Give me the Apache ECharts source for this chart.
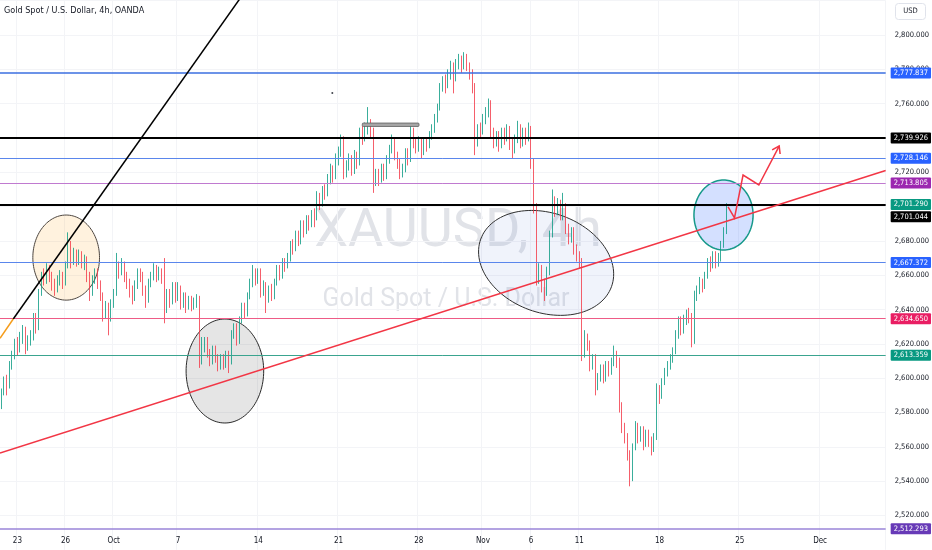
<!DOCTYPE html>
<html><head><meta charset="utf-8">
<script src="https://cdn.jsdelivr.net/npm/echarts@6/dist/echarts.min.js"></script>
<style>html,body{margin:0;padding:0;background:#fff}#c{width:932px;height:550px}</style>
</head><body><div id="c"></div>
<script>
// ---- candle data (4h XAUUSD) ----
const opens = [2584,2592,2598,2596,2608,2614, 2620,2617,2624,2628,2620,2622, 2625,2636,2630,2650,2660,2658, 2664,2659,2655,2652,2657,2660,
2656,2666,2678,2670,2673,2669, 2672,2668,2670,2660,2650,2658, 2662,2655,2648,2638,2642,2636, 2644,2650,2666,2662,2667,2660,
2656,2652,2647,2655,2662,2660, 2652,2646,2656,2660,2664,2660, 2662,2658,2640,2650,2645,2654, 2648,2652,2644,2648,2642,2646,
2642,2645,2646,2610,2618,2622, 2615,2610,2617,2612,2606,2612, 2608,2614,2610,2626,2630,2622, 2634,2642,2638,2648,2656,2662,
2658,2662,2650,2654,2646,2652, 2648,2656,2664,2660,2668,2666, 2670,2678,2676,2684,2680,2690, 2686,2692,2690,2696,2694,2706,
2702,2710,2708,2716,2722,2718, 2728,2732,2740,2720,2724,2728, 2722,2730,2726,2744,2740,2746, 2748,2744,2716,2720,2716,2722,
2718,2728,2734,2738,2730,2726, 2720,2722,2732,2728,2744,2738, 2735,2738,2733,2738,2736,2742, 2746,2752,2758,2770,2774,2772,
2778,2782,2776,2784,2786,2782, 2788,2782,2778,2770,2738,2746, 2744,2752,2756,2760,2744,2738, 2742,2736,2744,2740,2745,2737,
2734,2740,2746,2738,2744,2740, 2745,2726,2700,2660,2664,2655, 2650,2662,2684,2704,2698,2702, 2696,2700,2688,2682,2686,2676,
2672,2668,2614,2624,2620,2608, 2612,2596,2600,2606,2600,2608, 2604,2610,2614,2610,2584,2572, 2566,2556,2542,2560,2572,2566,
2570,2562,2568,2564,2560,2566, 2594,2590,2598,2604,2608,2612, 2616,2626,2634,2628,2634,2638, 2636,2622,2648,2652,2656,2654,
2660,2668,2666,2672,2668,2670, 2678,2686];
const closes = [2592,2598,2596,2608,2614,2620, 2617,2624,2628,2620,2622,2625, 2636,2630,2650,2660,2658,2664, 2659,2655,2652,2657,2660,2656,
2666,2678,2670,2673,2669,2672, 2668,2670,2660,2650,2658,2662, 2655,2648,2638,2642,2636,2644, 2650,2666,2662,2667,2660,2656,
2652,2647,2655,2662,2660,2652, 2646,2656,2660,2664,2660,2662, 2658,2640,2650,2645,2654,2648, 2652,2644,2648,2642,2646,2642,
2645,2646,2610,2618,2622,2615, 2610,2617,2612,2606,2612,2608, 2614,2610,2626,2630,2622,2634, 2642,2638,2648,2656,2662,2658,
2662,2650,2654,2646,2652,2648, 2656,2664,2660,2668,2666,2670, 2678,2676,2684,2680,2690,2686, 2692,2690,2696,2694,2706,2702,
2710,2708,2716,2722,2718,2728, 2732,2740,2720,2724,2728,2722, 2730,2726,2744,2740,2746,2748, 2744,2716,2720,2716,2722,2718,
2728,2734,2738,2730,2726,2720, 2722,2732,2728,2744,2738,2735, 2738,2733,2738,2736,2742,2746, 2752,2758,2770,2774,2772,2778,
2782,2776,2784,2786,2782,2788, 2782,2778,2770,2738,2746,2744, 2752,2756,2760,2744,2738,2742, 2736,2744,2740,2745,2737,2734,
2740,2746,2738,2744,2740,2745, 2726,2700,2660,2664,2655,2650, 2662,2684,2704,2698,2702,2696, 2700,2688,2682,2686,2676,2672,
2668,2614,2624,2620,2608,2612, 2596,2600,2606,2600,2608,2604, 2610,2614,2610,2584,2572,2566, 2556,2542,2560,2572,2566,2570,
2562,2568,2564,2560,2566,2594, 2590,2598,2604,2608,2612,2616, 2626,2634,2628,2634,2638,2636, 2622,2648,2652,2656,2654,2660,
2668,2666,2672,2668,2670,2678, 2686,2701.29];
const lows = [2582,2590,2590,2594,2605,2611, 2613,2615,2620,2614,2616,2619, 2622,2626,2628,2648,2654,2655, 2656,2651,2648,2650,2654,2652,
2654,2664,2664,2666,2665,2666, 2664,2663,2656,2645,2648,2655, 2652,2645,2633,2635,2625,2633, 2641,2648,2658,2660,2656,2652,
2647,2643,2645,2652,2656,2648, 2641,2644,2653,2657,2656,2657, 2655,2632,2638,2641,2643,2644, 2645,2640,2641,2638,2640,2639,
2640,2641,2606,2608,2615,2612, 2607,2608,2609,2604,2605,2605, 2606,2603,2608,2623,2619,2620, 2632,2635,2636,2646,2653,2654,
2655,2647,2648,2638,2644,2645, 2646,2654,2657,2658,2662,2664, 2668,2672,2674,2677,2678,2682, 2684,2686,2688,2688,2692,2698,
2700,2704,2706,2713,2714,2716, 2724,2729,2716,2717,2721,2718, 2719,2722,2724,2736,2738,2742, 2740,2708,2712,2712,2714,2715,
2716,2725,2731,2727,2722,2716, 2717,2720,2724,2726,2734,2731, 2732,2728,2730,2732,2734,2739, 2743,2749,2756,2767,2766,2769,
2774,2766,2773,2780,2778,2780, 2779,2774,2766,2730,2735,2740, 2742,2748,2752,2740,2734,2735, 2732,2734,2736,2738,2733,2728,
2731,2737,2734,2735,2736,2738, 2722,2696,2654,2655,2650,2645, 2648,2660,2682,2694,2695,2692, 2692,2684,2678,2679,2672,2668,
2664,2610,2612,2616,2604,2605, 2590,2593,2598,2597,2598,2601, 2602,2607,2606,2580,2568,2562, 2552,2537,2540,2558,2562,2563,
2558,2560,2560,2555,2557,2564, 2585,2588,2596,2601,2605,2609, 2614,2623,2625,2626,2631,2632, 2618,2620,2645,2649,2650,2652,
2658,2662,2664,2664,2665,2668, 2676,2684];
const highs = [2594,2601,2602,2610,2616,2623, 2624,2627,2631,2630,2625,2628, 2638,2638,2652,2662,2664,2667, 2666,2662,2658,2660,2663,2662,
2668,2685,2680,2676,2675,2675, 2674,2672,2671,2662,2660,2664, 2664,2657,2650,2645,2644,2646, 2652,2673,2668,2670,2668,2662,
2658,2654,2657,2664,2664,2662, 2654,2658,2662,2667,2666,2665, 2664,2670,2652,2652,2656,2656, 2656,2654,2650,2650,2648,2648,
2647,2649,2648,2624,2624,2624, 2617,2619,2619,2614,2614,2614, 2616,2616,2628,2632,2632,2636, 2644,2644,2650,2658,2666,2664,
2664,2664,2657,2656,2654,2655, 2658,2666,2666,2670,2670,2673, 2680,2681,2686,2686,2692,2692, 2695,2695,2698,2699,2709,2708,
2712,2713,2719,2725,2724,2731, 2735,2742,2741,2727,2731,2730, 2733,2732,2746,2747,2749,2758, 2751,2746,2722,2722,2725,2725,
2730,2736,2742,2740,2732,2728, 2725,2734,2734,2747,2746,2740, 2741,2740,2740,2740,2744,2748, 2754,2760,2772,2776,2777,2780,
2785,2784,2786,2789,2788,2790, 2789,2784,2780,2772,2748,2749, 2754,2758,2763,2762,2746,2744, 2744,2746,2746,2748,2747,2740,
2742,2750,2748,2746,2746,2749, 2747,2728,2702,2667,2666,2658, 2665,2686,2710,2706,2705,2704, 2708,2702,2690,2688,2688,2678,
2674,2670,2628,2626,2622,2614, 2614,2603,2608,2608,2610,2610, 2612,2619,2616,2612,2586,2574, 2568,2558,2562,2575,2574,2572,
2572,2570,2570,2566,2568,2597, 2596,2600,2606,2610,2614,2618, 2628,2636,2636,2637,2640,2641, 2638,2651,2654,2659,2658,2662,
2670,2671,2674,2674,2673,2680, 2688,2702];

// time axis: one slot per 4h bar (6 per trading day), future slots left empty
const SLOTS = 331;
const dateTickIndex = [6, 24, 42, 66, 96, 126, 156, 180, 198, 216, 246, 276, 306];
const dateTickText  = ['23','26','Oct','7','14','21','28','Nov','6','11','18','25','Dec'];

// price axis
const priceMin = 2500, priceMax = 2820, priceStep = 20;

// horizontal levels drawn on the chart
const levelPrices = [2777.837, 2739.926, 2728.146, 2713.805, 2701.044, 2667.372, 2634.650, 2613.359, 2512.293];
const lastPrice = 2701.290;

// drawings (bar index, price)
const trendBlack  = [[4.45, 2634.5], [96.2, 2836.7]];
const trendOrange = [[-0.5, 2623.3], [4.45, 2634.5]];
const trendRed    = [[-0.5, 2556.4], [330.5, 2721.0]];
const projPath    = [[271.6, 2699.9], [274.0, 2693.4], [277.2, 2718.4], [283.1, 2712.6], [290.7, 2735.3]];
const boxZone     = [[134.9, 2748.7], [156.1, 2746.7]];
const noteDot     = [[123.7, 2766.2]];
// ellipses: [centre index, centre price, radius (bars), radius (price), rotation deg]
const ellipses = [
  [24.23, 2670.3, 12.46, 24.8, 0],
  [83.55, 2604.2, 14.5, 30.3, 0],
  [203.6, 2667.2, 26.0, 29.0, 20],
  [269.9, 2695.1, 11.05, 20.4, 0]
];

// ---- styles ----
const FONT = "'Liberation Sans Narrow','DejaVu Sans Condensed',Roboto,sans-serif";
const levelStyle = [
  {line:'#3b6fe0', w:1.5, bg:'#2962ff'},
  {line:'#000000', w:2,   bg:'#000000'},
  {line:'#5a86ec', w:1,   bg:'#2962ff'},
  {line:'#c07ad0', w:1,   bg:'#9c27b0'},
  {line:'#000000', w:2,   bg:'#000000', dy:12},
  {line:'#5a86ec', w:1,   bg:'#2962ff'},
  {line:'#ee5b86', w:1,   bg:'#e91e63'},
  {line:'#3aa48f', w:1,   bg:'#089981'},
  {line:'#9a85d8', w:1.5, bg:'#673ab7'}
];
const ellipseStyle = [
  {fill:'rgba(255,152,0,0.13)',  stroke:'#4d4640', w:1},
  {fill:'rgba(0,0,0,0.10)',      stroke:'#2a2a2a', w:1},
  {fill:'rgba(66,103,210,0.08)', stroke:'#2f2f2f', w:1},
  {fill:'rgba(41,98,255,0.20)',  stroke:'#17998a', w:1.5}
];

const fmt = v => v.toLocaleString('en-US', {minimumFractionDigits:3, maximumFractionDigits:3});
const categories = Array.from({length: SLOTS}, (_, i) => String(i));
const candles = opens.map((o, i) => [o, closes[i], lows[i], highs[i]]);
const tickSet = new Map(dateTickIndex.map((d, k) => [d, dateTickText[k]]));

function priceLabel(bg, txt, dy) {
  return {show:true, position:'end', distance:5, formatter: txt, color:'#fff', backgroundColor:bg,
    padding:[2,3,1,3], fontSize:7.5, lineHeight:8, fontFamily:FONT, borderRadius:1, offset:[0, dy||0]};
}
const markData = levelPrices.map((p, k) => ({
  yAxis: p,
  lineStyle: {color: levelStyle[k].line, width: levelStyle[k].w, type:'solid'},
  label: priceLabel(levelStyle[k].bg, fmt(p), levelStyle[k].dy)
}));
markData.push({yAxis: lastPrice, lineStyle:{color:'rgba(255,255,255,0)', width:1, type:'solid'}, label: priceLabel('#089981', fmt(lastPrice), 0)});

const chart = echarts.init(document.getElementById('c'), null, {renderer:'canvas'});
chart.setOption({
  animation:false,
  backgroundColor:'#ffffff',
  grid:{left:0, right:42, top:0.7, bottom:0.2, containLabel:false},
  xAxis:[{
    type:'category', data:categories, boundaryGap:true, offset:-20,
    axisLine:{show:false}, axisTick:{show:false},
    axisLabel:{interval:(i)=>tickSet.has(i), formatter:(v,i)=>tickSet.get(i)||'', color:'#131722', fontSize:8, fontFamily:FONT, margin:7},
    splitLine:{show:true, interval:(i)=>tickSet.has(i), lineStyle:{color:'#f3f4f7', width:1}}
  },{
    type:'value', min:-0.5, max:SLOTS-0.5, show:false
  }],
  yAxis:[{
    type:'value', position:'right', min:priceMin, max:priceMax, interval:priceStep, scale:true,
    axisLine:{show:false}, axisTick:{show:false},
    axisLabel:{showMinLabel:false, showMaxLabel:false, formatter:fmt, color:'#131722', fontSize:7.5, fontFamily:FONT, margin:9, align:'left'},
    splitLine:{show:true, lineStyle:{color:'#f3f4f7', width:1}}
  }],
  graphic:[
    {type:'text', z:-10, x:458, y:232, style:{text:'XAUUSD, 4h', fill:'#e1e3e8', font:"54px Roboto", align:'center', verticalAlign:'middle'}},
    {type:'text', z:-10, x:446, y:300, style:{text:'Gold Spot / U.S. Dollar', fill:'#e1e3e8', font:"25px Roboto", align:'center', verticalAlign:'middle'}},
    {type:'text', z:50, x:4, y:11, style:{text:'Gold Spot / U.S. Dollar, 4h, OANDA', fill:'#131722', font:"500 9px "+FONT, verticalAlign:'middle'}},
    {type:'rect', z:50, shape:{x:895.5, y:3.5, width:30, height:16, r:3}, style:{fill:'#fff', stroke:'#e0e3eb', lineWidth:1}},
    {type:'text', z:51, x:910.5, y:11.5, style:{text:'USD', fill:'#131722', font:"7.5px "+FONT, align:'center', verticalAlign:'middle'}}
  ],
  series:[
    {
      type:'custom', name:'zones', xAxisIndex:1, yAxisIndex:0, z:1, silent:true, clip:true,
      data: ellipses,
      encode:{x:0, y:1},
      renderItem:(params, api)=>{
        const c = api.coord([api.value(0), api.value(1)]);
        const s = api.size([api.value(2), api.value(3)]);
        const rot = api.value(4)*Math.PI/180;
        const pts = [];
        for (let k=0;k<120;k++){
          const t = k/120*Math.PI*2, ex = s[0]*Math.cos(t), ey = s[1]*Math.sin(t);
          pts.push([c[0]+ex*Math.cos(rot)-ey*Math.sin(rot), c[1]+ex*Math.sin(rot)+ey*Math.cos(rot)]);
        }
        const st = ellipseStyle[params.dataIndex];
        return {type:'polygon', shape:{points:pts}, style:{fill:st.fill, stroke:st.stroke, lineWidth:st.w}};
      }
    },
    {
      type:'candlestick', name:'XAUUSD', xAxisIndex:0, yAxisIndex:0, z:3, silent:true,
      data:candles, barWidth:1.3,
      itemStyle:{color:'#089981', color0:'#f23645', borderColor:'#089981', borderColor0:'#f23645', borderWidth:0.8},
      markLine:{silent:true, symbol:['none','none'], animation:false, data:markData, z:4}
    },
    {type:'line', xAxisIndex:1, yAxisIndex:0, data:trendBlack, showSymbol:false, silent:true, z:5, clip:true,
     lineStyle:{color:'#000', width:1.5}},
    {type:'line', xAxisIndex:1, yAxisIndex:0, data:trendOrange, showSymbol:false, silent:true, z:5,
     lineStyle:{color:'#f59c1a', width:1.5}},
    {type:'line', xAxisIndex:1, yAxisIndex:0, data:trendRed, showSymbol:false, silent:true, z:5,
     lineStyle:{color:'#f23645', width:1.5}},
    {type:'scatter', xAxisIndex:1, yAxisIndex:0, data:noteDot, symbolSize:2, silent:true, z:5,
     itemStyle:{color:'#131722'}},
    {
      type:'custom', xAxisIndex:1, yAxisIndex:0, z:6, silent:true,
      data:[boxZone.flat()], encode:{x:[0,2], y:[1,3]},
      renderItem:(params, api)=>{
        const a = api.coord([api.value(0), api.value(1)]);
        const b = api.coord([api.value(2), api.value(3)]);
        return {type:'rect', shape:{x:a[0], y:a[1], width:b[0]-a[0], height:b[1]-a[1], r:1},
          style:{fill:'#a6a6a6', stroke:'#5f5f5f', lineWidth:0.8}};
      }
    },
    {
      type:'custom', xAxisIndex:1, yAxisIndex:0, z:6, silent:true,
      data:[projPath.flat()],
      encode:{x:[0,2,4,6,8], y:[1,3,5,7,9]},
      renderItem:(params, api)=>{
        const pts = [];
        for (let k=0;k<projPath.length;k++) pts.push(api.coord([api.value(2*k), api.value(2*k+1)]));
        const p1 = pts[pts.length-2], p2 = pts[pts.length-1];
        const ang = Math.atan2(p2[1]-p1[1], p2[0]-p1[0]), L = 8;
        const h1 = [p2[0]-L*Math.cos(ang-0.6), p2[1]-L*Math.sin(ang-0.6)];
        const h2 = [p2[0]-L*Math.cos(ang+0.6), p2[1]-L*Math.sin(ang+0.6)];
        return {type:'group', children:[
          {type:'polyline', shape:{points:pts}, style:{stroke:'#f23645', lineWidth:1.5, fill:null}},
          {type:'polyline', shape:{points:[h1,p2,h2]}, style:{stroke:'#f23645', lineWidth:1.5, fill:null}}
        ]};
      }
    }
  ]
});
</script>
</body></html>
